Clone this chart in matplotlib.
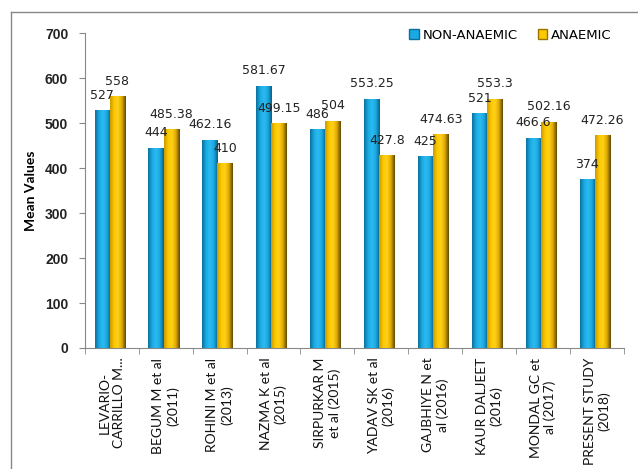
import matplotlib
matplotlib.use("Agg")
import matplotlib.pyplot as plt
import numpy as np
from matplotlib.colors import LinearSegmentedColormap
from matplotlib.patches import Patch
from matplotlib.lines import Line2D

categories = ["LEVARIO-\nCARRILLO M...", "BEGUM M et al\n(2011)", "ROHINI M et al\n(2013)",
              "NAZMA K et al\n(2015)", "SIRPURKAR M\net al (2015)", "YADAV SK et al\n(2016)",
              "GAJBHIYE N et\nal (2016)", "KAUR DALJEET\n(2016)", "MONDAL GC et\nal (2017)",
              "PRESENT STUDY\n(2018)"]
non_anaemic = [527, 444, 462.16, 581.67, 486, 553.25, 425, 521, 466.6, 374]
anaemic = [558, 485.38, 410, 499.15, 504, 427.8, 474.63, 553.3, 502.16, 472.26]
non_labels = ["527", "444", "462.16", "581.67", "486", "553.25", "425", "521", "466.6", "374"]
ana_labels = ["558", "485.38", "410", "499.15", "504", "427.8", "474.63", "553.3", "502.16", "472.26"]
series_names = ["NON-ANAEMIC", "ANAEMIC"]

blue_cmap = LinearSegmentedColormap.from_list("b", ["#0b6f9c", "#1aa9e2", "#2bbbf0", "#1aa9e2", "#0a5f86"])
gold_cmap = LinearSegmentedColormap.from_list("g", ["#c99a00", "#fcc800", "#ffd21a", "#e0aa00", "#5e4700"])

fig = plt.figure(figsize=(6.38, 4.69), dpi=100)
fig.patch.set_facecolor("white")
ax = fig.add_axes([0.133, 0.258, 0.845, 0.6716])

x = np.arange(len(categories))
w = 0.28
off = -0.04
b1 = ax.bar(x + off - w / 2, non_anaemic, width=w, color="none", edgecolor="none")
b2 = ax.bar(x + off + w / 2, anaemic, width=w, color="none", edgecolor="none")
grad = np.linspace(0, 1, 64).reshape(1, -1)
for bars, cmap in ((b1, blue_cmap), (b2, gold_cmap)):
    for r in bars:
        x0, w0, h0 = r.get_x(), r.get_width(), r.get_height()
        ax.imshow(grad, cmap=cmap, extent=(x0, x0 + w0, 0, h0), aspect="auto", zorder=2, interpolation="bicubic")

for bars, labs in ((b1, non_labels), (b2, ana_labels)):
    for r, t in zip(bars, labs):
        ax.annotate(t, (r.get_x() + r.get_width() / 2, r.get_height()), xytext=(0, 11),
                    textcoords="offset points", ha="center", va="center", fontsize=9,
                    family="DejaVu Sans", color="#222222", zorder=5)

ax.set_xlim(-0.5, len(categories) - 0.5)
ax.set_ylim(0, 700)
ax.set_yticks(np.arange(0, 701, 100))
ax.set_yticklabels([str(v) for v in range(0, 701, 100)], fontsize=10, fontweight="bold",
                   family="Liberation Sans", color="#222222")
ax.set_xticks(x)
ax.set_xticklabels(categories, rotation=90, fontsize=10, family="Lato", color="#111111",
                   ha="center", va="top", multialignment="center")
ax.set_xticks(np.arange(-0.5, len(categories), 1), minor=True)
ax.tick_params(axis="x", which="major", length=0, pad=7)
ax.tick_params(axis="x", which="minor", length=4, direction="out", color="#888888")
ax.tick_params(axis="y", length=4, direction="out", color="#888888", pad=8)
for s in ("top", "right"):
    ax.spines[s].set_visible(False)
for s in ("left", "bottom"):
    ax.spines[s].set_color("#888888")
ax.set_ylabel("Mean Values", fontsize=10, fontweight="bold", family="Lato", labelpad=6)

handles = [Patch(facecolor="#1aa9e2", edgecolor="#0b6f9c"), Patch(facecolor="#fcc800", edgecolor="#9a7400")]
fig.legend(handles, series_names, loc="center", bbox_to_anchor=(0.8, 0.925), ncol=2, frameon=False,
           fontsize=9.5, handlelength=0.7, handleheight=0.7, handletextpad=0.3, columnspacing=1.5)

fig.add_artist(Line2D([11 / 638, 11 / 638], [0, 457 / 469], transform=fig.transFigure, color="#888888", lw=1))
fig.add_artist(Line2D([11 / 638, 1], [457 / 469, 457 / 469], transform=fig.transFigure, color="#888888", lw=1))

fig.savefig("out.png", dpi=100)
